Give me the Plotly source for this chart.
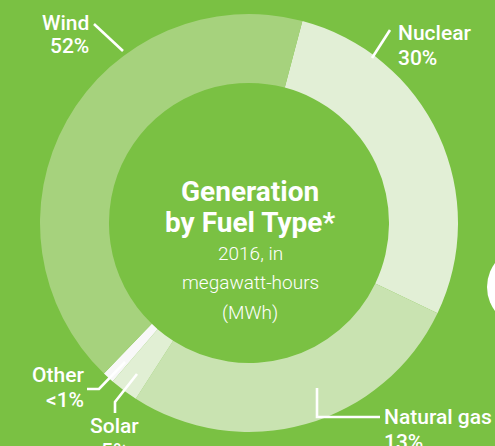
import plotly.graph_objects as go

# ---- data ----
fuels = ["Nuclear", "Natural gas", "Solar", "Other", "Wind"]
label_pct = ["30%", "13%", "5%", "<1%", "52%"]          # printed labels
arc_share = [28.0, 27.0, 2.2, 0.9, 41.9]               # drawn arc sizes (% of ring)
colors = ["#e2efd6", "#c9e3b1", "#e1efd4", "#f8f8f8", "#a6d27d"]
title_lines = ["Generation", "by Fuel Type*"]
sub_lines = ["2016, in", "megawatt-hours", "(MWh)"]

W, H = 495, 446
BG = "#7ac143"
FONT = "Roboto, Liberation Sans, sans-serif"


def px(x):
    return x / W


def py(y):
    return 1 - y / H


cx, cy, R = 249, 223, 209

fig = go.Figure(go.Pie(
    labels=fuels,
    values=arc_share,
    marker=dict(colors=colors, line=dict(width=0)),
    hole=0.67,
    sort=False,
    direction="clockwise",
    rotation=14.8,
    textinfo="none",
    hoverinfo="label",
    showlegend=False,
    domain=dict(x=[px(cx - R), px(cx + R)], y=[py(cy + R), py(cy - R)]),
))

annotations = []


def txt(s, x, y, size, xanchor="center", weight=400):
    annotations.append(dict(
        text=s, x=px(x), y=py(y), xref="paper", yref="paper",
        xanchor=xanchor, yanchor="middle", showarrow=False,
        font=dict(family=FONT, size=size, color="white", weight=weight),
    ))


# centre title
txt(title_lines[0], 250, 191, 28, weight=700)
txt(title_lines[1], 250, 222, 28, weight=700)
txt(sub_lines[0], 250, 253, 19, weight=300)
txt(sub_lines[1], 250, 282, 19, weight=300)
txt(sub_lines[2], 250, 312, 19, weight=300)

# slice labels
LS = 21
LW = 500
lab = dict(zip(fuels, label_pct))
txt("Wind", 91, 23, LS, xanchor="right", weight=LW)
txt(lab["Wind"], 91, 46, LS, xanchor="right", weight=LW)
txt("Nuclear", 396, 33, LS, xanchor="left", weight=LW)
txt(lab["Nuclear"], 396, 58, LS, xanchor="left", weight=LW)
txt("Other", 86, 375, LS, xanchor="right", weight=LW)
txt(lab["Other"], 86, 400, LS, xanchor="right", weight=LW)
txt("Solar", 114, 426, LS, weight=LW)
txt(lab["Solar"], 114, 451, LS, weight=LW)
txt("Natural gas", 382, 417, LS, xanchor="left", weight=LW)
txt(lab["Natural gas"], 382, 442, LS, xanchor="left", weight=LW)


def path(pts):
    d = "M " + " L ".join(f"{px(x):.5f},{py(y):.5f}" for x, y in pts)
    return dict(type="path", path=d, xref="paper", yref="paper",
                line=dict(color="white", width=2.6))


shapes = [
    path([(94, 24), (123, 51)]),
    path([(390, 30), (372, 58)]),
    path([(87, 389), (99, 389), (125, 362)]),
    path([(115, 413), (115, 402), (137, 374)]),
    path([(317, 388), (317, 417), (380, 417)]),
    dict(type="circle", xref="paper", yref="paper",
         x0=px(487), x1=px(567), y0=py(327), y1=py(247),
         fillcolor="white", line=dict(width=0)),
]

fig.update_layout(
    width=W, height=H,
    margin=dict(l=0, r=0, t=0, b=0),
    paper_bgcolor=BG, plot_bgcolor=BG,
    annotations=annotations,
    shapes=shapes,
)

fig.write_html(
    "out.html",
    config={"displayModeBar": False},
    post_script="document.body.style.margin='0';"
                "document.body.style.overflow='hidden';"
                f"document.body.style.background='{BG}';",
)
